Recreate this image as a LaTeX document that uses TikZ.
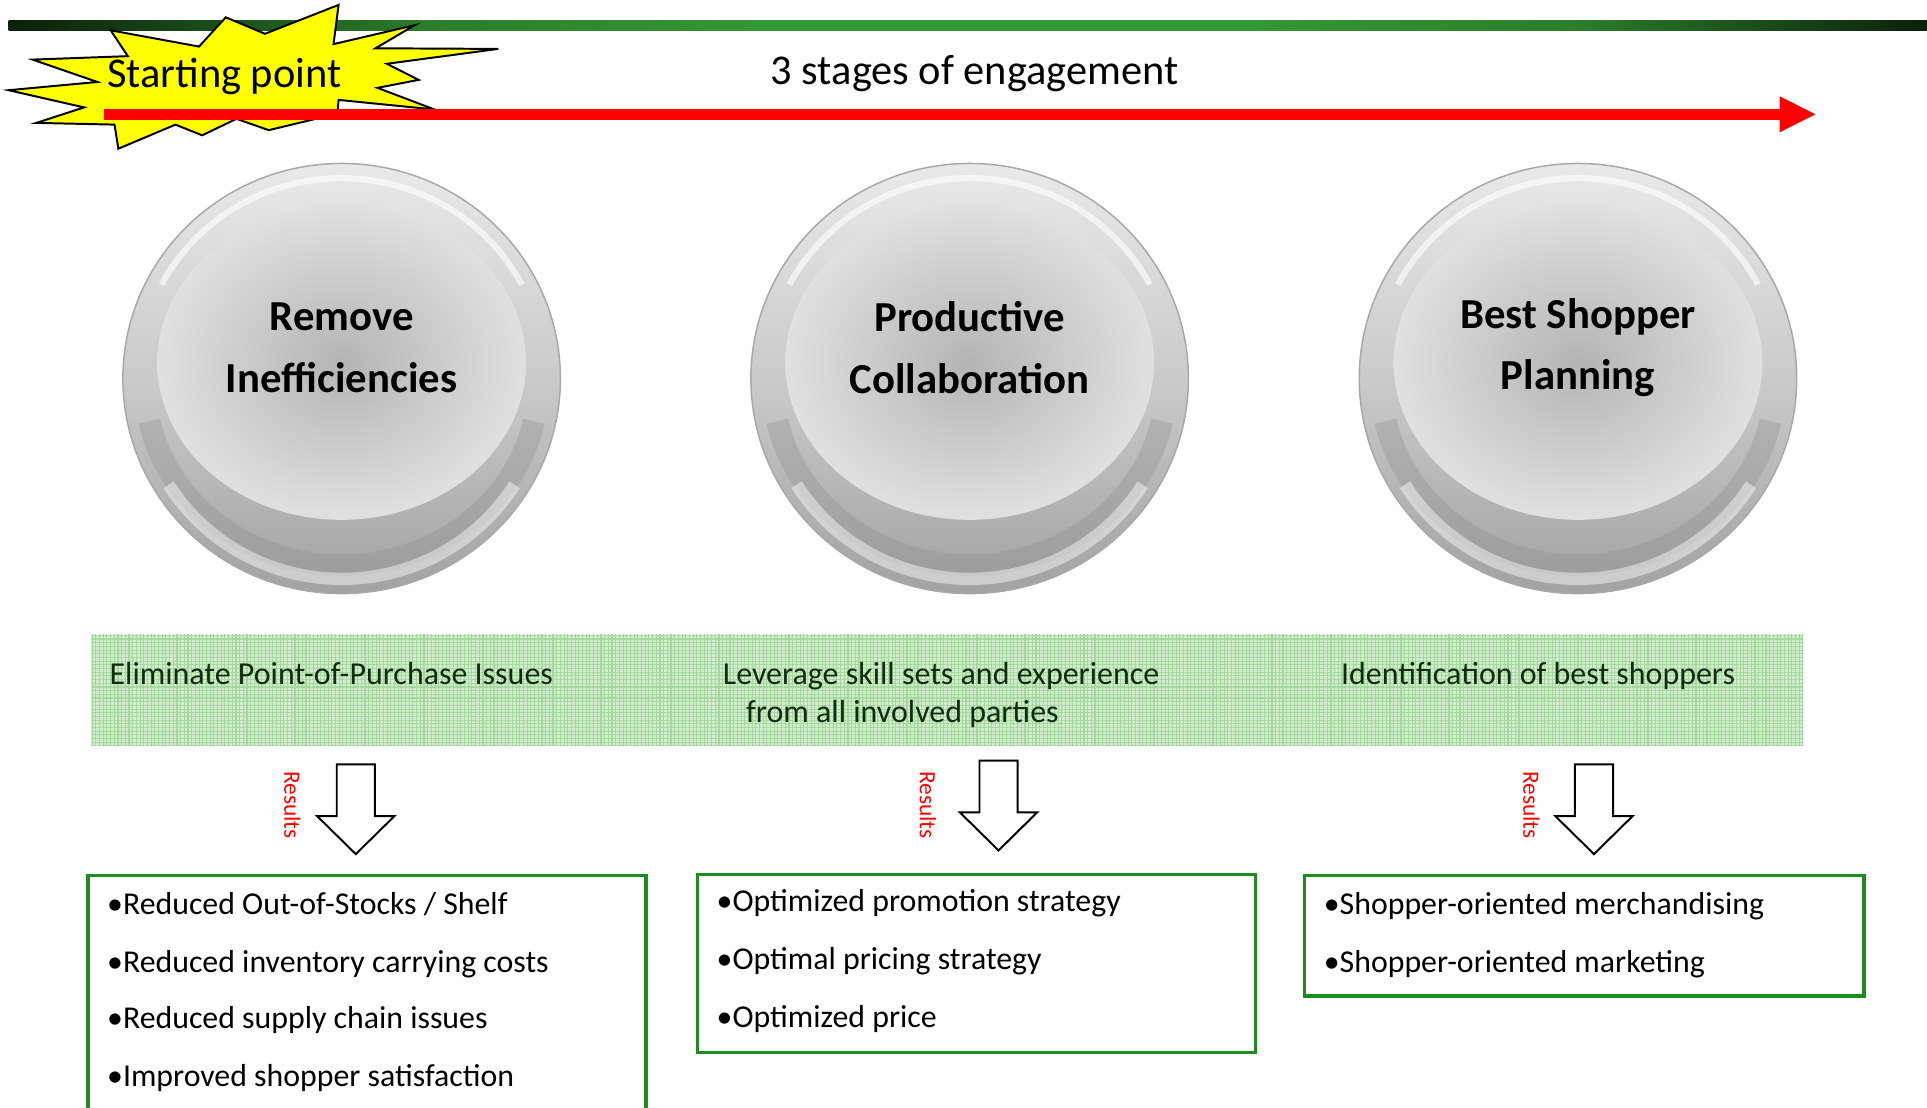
\documentclass[tikz,border=0pt]{standalone}
\usepackage{fontspec}
\setmainfont{Carlito}
\usetikzlibrary{arrows.meta,patterns.meta}
\definecolor{bardark}{HTML}{0B200B}
\definecolor{barmid}{HTML}{2B7D2B}
\definecolor{bargreen}{HTML}{349934}
\definecolor{boxgreen}{HTML}{1E8C1E}
\definecolor{bandfill}{HTML}{D2EDCE}
\definecolor{bandline}{HTML}{A4D89E}
\definecolor{bandtext}{HTML}{0F2C0F}
\definecolor{staryellow}{HTML}{FFFF00}
\definecolor{discA}{HTML}{E9E9E9}
\definecolor{discB}{HTML}{CACACA}
\definecolor{discC}{HTML}{A2A2A2}
\definecolor{faceIn}{HTML}{B4B4B4}
\definecolor{faceOut}{HTML}{E0E0E0}
\definecolor{rimdark}{HTML}{8A8A8A}
\definecolor{rimline}{HTML}{A8A8A8}
\pgfdeclarehorizontalshading{barshade}{100bp}{color(0bp)=(bardark); color(25bp)=(bardark); color(36bp)=(barmid); color(45bp)=(bargreen); color(57bp)=(bargreen); color(66bp)=(barmid); color(75bp)=(bardark); color(100bp)=(bardark)}
\newcommand{\silverdisc}[1]{%
  \begin{scope}[shift={#1},y=1pt]
    \shade[top color=discA,bottom color=discC,middle color=discB]
      (0,0) ellipse [x radius=178,y radius=175];
    \draw[rimdark,line width=18,opacity=.3]
      (0,-4) ++(192:160 and 148) arc[start angle=192,end angle=348,x radius=160,y radius=148];
    \draw[white,line width=10,opacity=.45]
      (0,0) ++(212:166 and 163) arc[start angle=212,end angle=328,x radius=166,y radius=163];
    \shade[inner color=faceIn,outer color=faceOut]
      (0,13) ellipse [x radius=150,y radius=128];
    \draw[white,line width=5,opacity=.6]
      (0,0) ++(28:166 and 163) arc[start angle=28,end angle=152,x radius=166,y radius=163];
    \draw[rimline,line width=1.2] (0,0) ellipse [x radius=178,y radius=175];
  \end{scope}}
\newcommand{\blockarrow}[1]{%
  \begin{scope}[shift={#1}]
    \draw[black,line width=1.6,fill=white,line join=miter]
      (-15.5,0) -- (15.5,0) -- (15.5,42) -- (31.5,42) -- (0,73) -- (-31.5,42) -- (-15.5,42) -- cycle;
  \end{scope}}
\tikzset{
  bigtxt/.style={inner sep=0pt,font=\fontsize{34.5}{40}\selectfont},
  disctxt/.style={inner sep=0pt,align=center,font=\fontsize{34.8}{50}\selectfont\bfseries},
  bandtxt/.style={inner sep=0pt,anchor=base west,text=bandtext,font=\fontsize{26}{30}\selectfont},
  itemtxt/.style={inner sep=0pt,anchor=base west,font=\fontsize{25.9}{30}\selectfont},
  restxt/.style={inner sep=0pt,text=red,rotate=-90,font=\fontsize{19}{22}\selectfont},
  resbox/.style={draw=boxgreen,line width=3,fill=white,anchor=north west,inner sep=0pt},
}
\begin{document}
\begin{tikzpicture}[x=1pt,y=-1pt]
\useasboundingbox (0,0) rectangle (1568,901);
% top gradient bar
\shade[shading=barshade] (7,17) rectangle (1568,25);
% starburst
\draw[fill=staryellow,line width=1.6,line join=miter]
  (7,73.4) -- (79.2,66.7) -- (26.5,48.5) -- (104,45.7) -- (90.1,24.7) -- (162,37.9)
  -- (183.7,14.1) -- (215.6,27.5) -- (275.5,4) -- (271.4,35.9) -- (337.5,20.5)
  -- (305.5,39.3) -- (405.4,39.8) -- (314.8,51.9) -- (340.6,65) -- (307.1,71.5)
  -- (353.6,89.1) -- (275.5,81.3) -- (274.5,92.5) -- (218.7,105.9) -- (192.4,96.7)
  -- (164.5,110.1) -- (142.8,101.4) -- (96.3,121) -- (93.2,101.4) -- (29.6,100)
  -- (68.4,87.4) -- cycle;
\node[bigtxt,anchor=base west] (start) at (87,71) {Starting point};
\node[bigtxt,anchor=base] (stages) at (793,69) {3 stages of engagement};
% red timeline arrow
\coordinate (rs) at (85,93);
\coordinate (re) at (1478,93);
\draw[red,line width=9,-{Triangle[length=30pt,width=27pt]}] (rs) -- (re);
% silver discs
\silverdisc{(278,308)}
\silverdisc{(789,308)}
\silverdisc{(1284,308)}
\node[disctxt] (c1) at (278,283) {Remove\\Inefficiencies};
\node[disctxt] (c2) at (789,283) {Productive\\Collaboration};
\node[disctxt] (c3) at (1284,283) {Best Shopper\\Planning};
% green band
\node[anchor=north west,minimum width=1393pt,minimum height=90pt,inner sep=0pt,
      preaction={fill=bandfill},
      pattern={Hatch[angle=0,distance=3pt,line width=0.9pt]},pattern color=bandline] (band) at (74,516) {};
\node[bandtxt] (b1) at (89,557) {Eliminate Point-of-Purchase Issues};
\node[bandtxt] (b2) at (588,557) {Leverage skill sets and experience};
\node[bandtxt] (b2b) at (607,588) {from all involved parties};
\node[bandtxt] (b3) at (1091,557) {Identification of best shoppers};
% block arrows and labels
\blockarrow{(289.5,622)}
\blockarrow{(812.5,619)}
\blockarrow{(1297,622)}
\node[restxt] (r1) at (238,655) {Results};
\node[restxt] (r2) at (755,655) {Results};
\node[restxt] (r3) at (1246,655) {Results};
% result boxes
\node[resbox,minimum width=454pt,minimum height=200pt] (box1) at (70,711) {};
\node[resbox,minimum width=454pt,minimum height=145pt] (box2) at (566,710) {};
\node[resbox,minimum width=455pt,minimum height=98pt] (box3) at (1060,711) {};
\node[itemtxt] (i11) at (87,744) {•Reduced Out-of-Stocks / Shelf};
\node[itemtxt] (i12) at (87,791) {•Reduced inventory carrying costs};
\node[itemtxt] (i13) at (87,837) {•Reduced supply chain issues};
\node[itemtxt] (i14) at (87,884) {•Improved shopper satisfaction};
\node[itemtxt] (i21) at (583,742) {•Optimized promotion strategy};
\node[itemtxt] (i22) at (583,789) {•Optimal pricing strategy};
\node[itemtxt] (i23) at (583,836) {•Optimized price};
\node[itemtxt] (i31) at (1077,744) {•Shopper-oriented merchandising};
\node[itemtxt] (i32) at (1077,791) {•Shopper-oriented marketing};
\end{tikzpicture}
\end{document}
